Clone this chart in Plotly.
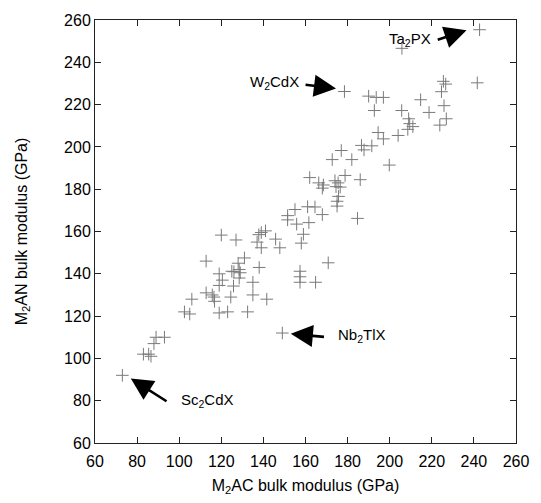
import plotly.graph_objects as go

# M2AC bulk modulus (GPa)
m2ac = [73, 83, 85.5, 86.6, 88, 89, 93, 102.5, 105, 106,
        112.8, 112.8, 115.7, 116.5, 116.8, 119, 120.5, 119, 119, 123,
        124.5, 125, 126, 125.8, 128, 128.5, 129, 128.5, 131, 132.5,
        135, 135, 138, 141.6, 149, 120, 127, 137.8, 139, 141,
        137, 139, 145.8, 147.8, 151.5, 151.5, 155, 155.8, 161, 164.5,
        161.6, 168, 159, 158, 157.4, 157.4, 157.4, 164.8, 170.8, 162,
        166.3, 168.5, 168, 174, 175.5, 176.5, 174.5, 178.8, 186, 175.7,
        175, 175, 184.7, 177, 172.7, 182, 186.6, 187.8, 191.5, 199.8,
        194.5, 197, 204, 178.5, 190, 193.6, 197, 192.7, 205.7, 214.7,
        209, 209.5, 211, 208.6, 218.7, 225.5, 226.6, 224.6, 225.8, 226.9,
        223.8, 241.6, 242.7, 205.8]
# M2AN bulk modulus (GPa)
m2an = [92, 102, 102, 101, 107, 110, 110, 122, 121, 128,
        146, 131, 130, 129, 127, 140, 137, 134.5, 121.5, 122,
        129, 141.2, 141, 134.2, 145, 142, 140.5, 138, 147.5, 122,
        136, 130, 143, 128, 112, 158.3, 156, 158.5, 159.5, 160.3,
        155, 152.3, 156.4, 152.3, 167.5, 165.5, 170.4, 163.5, 171.7, 171.6,
        164.2, 168, 158.7, 154.5, 141.2, 138.6, 136, 136, 145.2, 185.5,
        183, 182, 180.5, 184, 183, 181, 181.2, 186.5, 184.5, 176.6,
        174.3, 172, 166.2, 198.3, 194, 194, 200.7, 198.6, 200.5, 191.4,
        206.8, 203.8, 205.4, 226.2, 224, 223.4, 223.4, 217.2, 217.2, 222.3,
        213.3, 211, 209.6, 208.3, 216.3, 231, 229.7, 226.1, 219.5, 213.3,
        210.3, 230.3, 255.4, 246.6]

# labelled compounds: name, arrow tip, arrow tail, text position, text anchor
labels = ["Ta<sub>2</sub>PX", "W<sub>2</sub>CdX", "Nb<sub>2</sub>TlX", "Sc<sub>2</sub>CdX"]
tip_x = [236.5, 174.5, 153.0, 77.0]
tip_y = [255.2, 227.6, 111.6, 90.5]
tail_x = [222.1, 159.3, 169.5, 94.7]
tail_y = [250.4, 229.5, 110.1, 79.3]
text_x = [220.5, 157.9, 174.7, 99.8]
text_y = [250.9, 230.4, 110.6, 80.3]
text_anchor = ["right", "right", "left", "left"]

tick_vals = list(range(60, 261, 20))

fig = go.Figure()
fig.add_trace(go.Scatter(
    x=m2ac, y=m2an, mode="markers",
    marker=dict(symbol="cross-thin", size=9, line=dict(width=1, color="#7a7a7a"), color="#7a7a7a"),
    showlegend=False, hoverinfo="x+y"))

font = "Liberation Sans, Arial, Helvetica, sans-serif"
annotations = []
for i in range(len(labels)):
    annotations.append(dict(
        x=tip_x[i], y=tip_y[i], xref="x", yref="y",
        ax=tail_x[i], ay=tail_y[i], axref="x", ayref="y",
        text="", showarrow=True, arrowhead=2, arrowwidth=2.6, arrowsize=1.7,
        arrowcolor="black", standoff=0, startstandoff=0))
    annotations.append(dict(
        x=text_x[i], y=text_y[i], xref="x", yref="y",
        text=labels[i], showarrow=False, xanchor=text_anchor[i], yanchor="middle",
        font=dict(family=font, size=15, color="black")))

axis_common = dict(
    showgrid=False, zeroline=False, showline=True, linecolor="#222", linewidth=1,
    mirror="ticks", ticks="inside", ticklen=6, tickwidth=1, tickcolor="#222",
    tickfont=dict(family=font, size=16, color="black"),
    tickvals=tick_vals, ticktext=[str(v) for v in tick_vals],
)

fig.update_layout(
    width=541, height=503,
    margin=dict(l=94.5, r=16.5, t=14.5, b=59.5),
    paper_bgcolor="white", plot_bgcolor="white",
    annotations=annotations,
    xaxis=dict(range=[60, 260], ticklabelstandoff=4,
               title=dict(text="M<sub>2</sub>AC bulk modulus (GPa)",
                          font=dict(family=font, size=16, color="black"), standoff=10), **axis_common),
    yaxis=dict(range=[60, 260], ticklabelstandoff=0,
               title=dict(text="M<sub>2</sub>AN bulk modulus (GPa)",
                          font=dict(family=font, size=16, color="black"), standoff=32), **axis_common),
)

fig.write_html("out.html")
